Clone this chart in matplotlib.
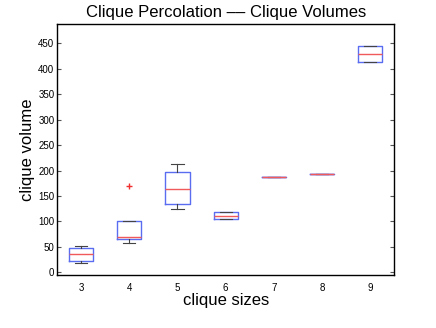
import matplotlib
matplotlib.use("Agg")
import matplotlib.pyplot as plt

# clique sizes and box statistics
sizes = [3, 4, 5, 6, 7, 8, 9]
whislo = [18, 58, 124, 104.5, 187, 194, 413]
q1 = [23, 65, 135, 104.5, 187, 194, 413]
med = [36, 70, 163, 111.5, 187, 194, 429]
q3 = [47, 100, 197, 118.5, 187, 194, 445]
whishi = [51, 100, 212, 118.5, 187, 194, 445]
fliers = [[], [170], [], [], [], [], []]

plt.rcParams['font.family'] = ['Liberation Sans', 'DejaVu Sans']

fig = plt.figure(figsize=(4.36, 3.28), dpi=100)
ax = fig.add_axes([0.131, 0.162, 0.773, 0.765])

stats = []
for i in range(len(sizes)):
    stats.append(dict(whislo=whislo[i], q1=q1[i], med=med[i], q3=q3[i],
                      whishi=whishi[i], fliers=fliers[i]))

ax.bxp(stats, positions=sizes, widths=0.5, capwidths=0.25, showfliers=True,
       boxprops=dict(color='#5a6cf0', linewidth=1.0),
       medianprops=dict(color='#f05a5a', linewidth=1.0),
       whiskerprops=dict(color='#444444', linewidth=0.8),
       capprops=dict(color='#444444', linewidth=0.8),
       flierprops=dict(marker='+', markeredgecolor='#f03030', markersize=5,
                       linestyle='none'))

ax.set_xlim(2.5, 9.5)
ax.set_ylim(-5, 488)
ax.set_xticks(sizes)
ax.set_xticklabels([str(s) for s in sizes])
ax.set_yticks(range(0, 451, 50))
ax.tick_params(axis='y', direction='in', length=3, width=0.8, right=True,
               labelsize=7, pad=2, color='#555555')
ax.tick_params(axis='x', length=0, labelsize=7, pad=6)
for s in ax.spines.values():
    s.set_linewidth(1.0)

ax.set_title('Clique Percolation \u2013\u2013 Clique Volumes', fontsize=12, pad=5)
ax.set_xlabel('clique sizes', fontsize=12, labelpad=0)
ax.set_ylabel('clique volume', fontsize=12, labelpad=2)

fig.savefig('out.png', dpi=100)
